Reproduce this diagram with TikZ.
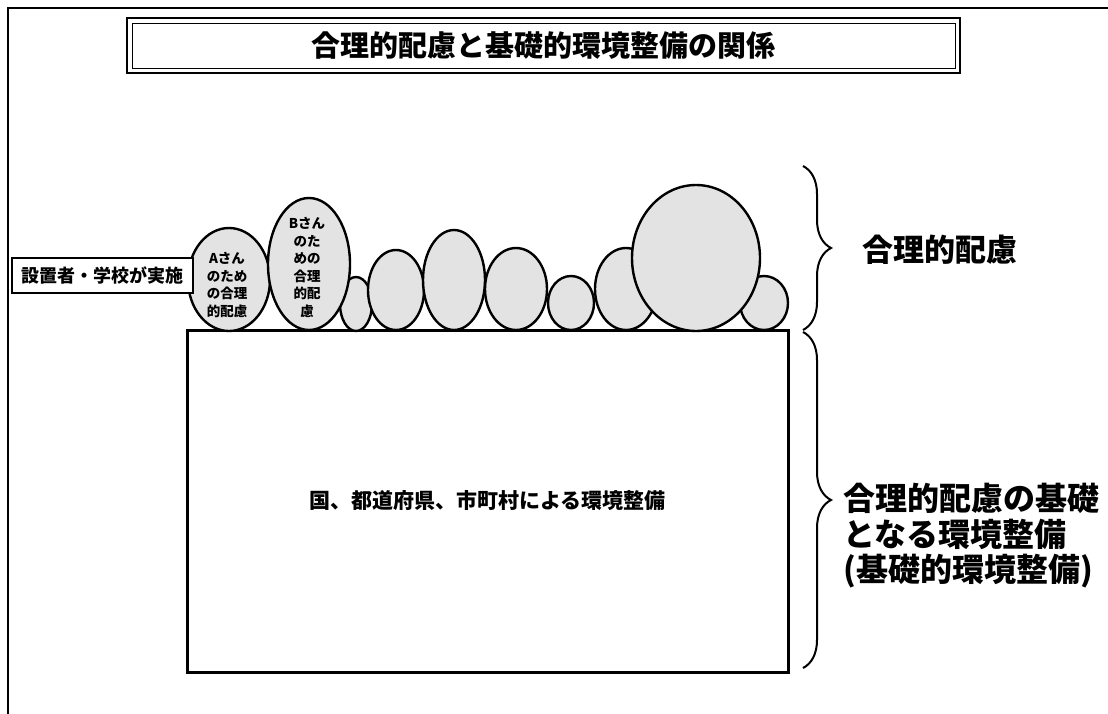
\documentclass[tikz,border=0pt]{standalone}
\usepackage{fontspec}
\newfontfamily\jp{Noto Sans CJK JP}
\usetikzlibrary{shapes.geometric,decorations.pathreplacing}
\begin{document}
\begin{tikzpicture}[x=1pt,y=-1pt,font=\jp\bfseries,
  bub/.style={ellipse,draw,line width=2.4pt,fill=black!11,inner sep=0pt},
  boxed/.style={draw,line width=2.4pt,inner sep=0pt,fill=white},
  bubtext/.style={align=center,inner sep=0pt,font=\jp\bfseries\fontsize{13.5}{17.6}\selectfont},
  bracestyle/.style={line width=2pt,decorate,decoration={brace,amplitude=28pt}},
  sidetext/.style={anchor=west,align=left,inner sep=0pt}]
\useasboundingbox (0,0) rectangle (1108,714);
\fill[white] (0,0) rectangle (1108,714);
% outer frame
\coordinate (fbl) at (8,714);
\coordinate (ftl) at (8,8);
\coordinate (ftr) at (1108,8);
\draw[line width=2pt] (fbl) -- (ftl) -- (ftr);
% title
\node[draw,line width=2.6pt,minimum width=833pt,minimum height=55pt,inner sep=0pt] (title) at (543.5,45.5) {};
\node[draw,line width=0.9pt,minimum width=823pt,minimum height=45pt,inner sep=0pt,
      font=\jp\bfseries\fontsize{29}{32}\selectfont] (titleinner) at (543.5,46) {合理的配慮と基礎的環境整備の関係};
% base rectangle
\node[boxed,line width=3pt,minimum width=601pt,minimum height=342pt,
      font=\jp\bfseries\fontsize{21}{24}\selectfont] (base) at (487.5,501) {国、都道府県、市町村による環境整備};
% bubbles
\node[bub,minimum width=82pt,minimum height=103pt] (ea) at (229,279.5) {};
\node[bub,minimum width=32pt,minimum height=54pt] (e1) at (356,304) {};
\node[bub,minimum width=82pt,minimum height=132pt] (eb) at (309,264) {};
\node[bub,minimum width=56pt,minimum height=80pt] (e2) at (396,290) {};
\node[bub,minimum width=62pt,minimum height=100pt] (e3) at (454,280) {};
\node[bub,minimum width=62pt,minimum height=82pt] (e4) at (516,289) {};
\node[bub,minimum width=46pt,minimum height=54pt] (e5) at (571,303) {};
\node[bub,minimum width=62pt,minimum height=82pt] (e6) at (626,289) {};
\node[bub,minimum width=48pt,minimum height=54pt] (e8) at (764,303) {};
\node[bub,minimum width=128pt,minimum height=146pt] (e7) at (696,258) {};
\node[bubtext] (ta) at (227,285) {Aさん\\のため\\の合理\\的配慮};
\node[bubtext] (tb) at (307,267.5) {Bさん\\のた\\めの\\合理\\的配\\慮};
% left box
\node[boxed,minimum width=181pt,minimum height=35pt,
      font=\jp\bfseries\fontsize{18}{20}\selectfont] (impl) at (102.5,275.5) {設置者・学校が実施};
% braces
\coordinate (b1t) at (803,166);
\coordinate (b1b) at (803,330);
\coordinate (b2t) at (803,332);
\coordinate (b2b) at (803,668);
\draw[bracestyle] (b1t) -- (b1b);
\draw[bracestyle] (b2t) -- (b2b);
\node[sidetext,font=\jp\bfseries\fontsize{31}{34}\selectfont] (lab1) at (862,250) {合理的配慮};
\node[sidetext,font=\jp\bfseries\fontsize{32}{35.5}\selectfont] (lab2) at (843,536) {合理的配慮の基礎\\となる環境整備\\(基礎的環境整備)};
\end{tikzpicture}
\end{document}
